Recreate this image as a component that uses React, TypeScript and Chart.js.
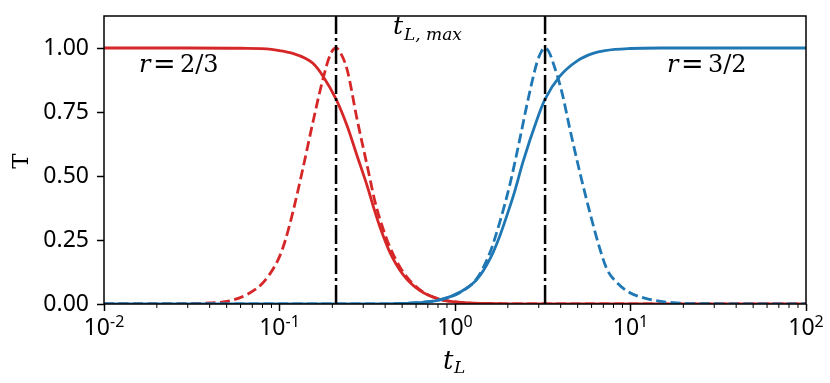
import React, { useEffect, useRef } from "react";
import { Chart, registerables } from "chart.js";

Chart.register(...registerables);

// ---- data ----
const redSolidT = [0.01, 0.03, 0.06, 0.09, 0.1, 0.12, 0.14, 0.155, 0.177, 0.21, 0.243, 0.277, 0.316, 0.35, 0.374, 0.427, 0.506, 0.632, 0.822, 1.07, 1.5, 3, 100];
const redSolidV = [1.0, 1.0, 0.999, 0.995, 0.99, 0.978, 0.96, 0.94, 0.89, 0.8, 0.695, 0.578, 0.461, 0.36, 0.3, 0.2, 0.115, 0.052, 0.018, 0.006, 0.002, 0.0, 0.0];

const redDashT = [0.01, 0.03, 0.04, 0.052, 0.068, 0.0805, 0.094, 0.1007, 0.1075, 0.1193, 0.136, 0.155, 0.177, 0.195, 0.21, 0.225, 0.243, 0.277, 0.316, 0.35, 0.374, 0.427, 0.506, 0.632, 0.822, 1.07, 1.5, 3, 100];
const redDashV = [0, 0.001, 0.004, 0.012, 0.044, 0.083, 0.148, 0.19, 0.245, 0.36, 0.53, 0.71, 0.88, 0.975, 1.0, 0.975, 0.915, 0.72, 0.54, 0.4, 0.33, 0.22, 0.125, 0.055, 0.018, 0.006, 0.002, 0, 0];

const blueSolidT = [0.01, 0.3, 0.6, 0.822, 1.07, 1.334, 1.58, 1.8, 2.06, 2.2, 2.44, 2.93, 3.26, 3.96, 4.95, 6.11, 7.16, 9.93, 15, 100];
const blueSolidV = [0, 0.0, 0.004, 0.016, 0.047, 0.096, 0.175, 0.266, 0.383, 0.445, 0.555, 0.72, 0.8, 0.89, 0.949, 0.979, 0.99, 0.998, 1.0, 1.0];

const blueDashT = [0.01, 0.3, 0.6, 0.822, 1.07, 1.334, 1.58, 1.8, 2.06, 2.35, 2.61, 2.93, 3.1, 3.26, 3.43, 3.62, 4.07, 4.52, 5.15, 5.87, 6.7, 7.35, 8.38, 9.93, 12.9, 17.5, 30, 100];
const blueDashV = [0, 0, 0.005, 0.017, 0.045, 0.1, 0.2, 0.32, 0.47, 0.65, 0.8, 0.943, 0.985, 1.0, 0.985, 0.943, 0.826, 0.682, 0.513, 0.357, 0.214, 0.135, 0.083, 0.044, 0.018, 0.005, 0.001, 0];

const tMaxRed = 0.21;
const tMaxBlue = 3.26;

const xMajorTicks = [0.01, 0.1, 1, 10, 100];
const xMajorExponents = ["-2", "-1", "0", "1", "2"];
const yTicks = [0, 0.25, 0.5, 0.75, 1.0];
const yTickLabels = ["0.00", "0.25", "0.50", "0.75", "1.00"];

const RED = "#d62728";
const BLUE = "#1f77b4";
const SERIF = "'DejaVu Serif', serif";
const SANS = "'Noto Sans', sans-serif";

function pts(t: number[], v: number[]) {
  return t.map((x, i) => ({ x, y: v[i] }));
}

const overlay = {
  id: "overlay",
  afterDraw(chart: any) {
    const ctx = chart.ctx as CanvasRenderingContext2D;
    const a = chart.chartArea;
    const xs = chart.scales.x;
    ctx.save();
    // frame
    ctx.strokeStyle = "#000";
    ctx.lineWidth = 1.5;
    ctx.strokeRect(a.left, a.top, a.right - a.left, a.bottom - a.top);
    // minor x ticks
    ctx.lineWidth = 1;
    for (let d = 0; d < xMajorTicks.length - 1; d++) {
      for (let k = 2; k <= 9; k++) {
        const px = xs.getPixelForValue(xMajorTicks[d] * k);
        ctx.beginPath();
        ctx.moveTo(px, a.bottom);
        ctx.lineTo(px, a.bottom + 4);
        ctx.stroke();
      }
    }
    // x tick labels 10^n
    ctx.fillStyle = "#000";
    ctx.textBaseline = "alphabetic";
    ctx.textAlign = "left";
    xMajorTicks.forEach((v, i) => {
      const px = xs.getPixelForValue(v);
      ctx.font = `23px ${SANS}`;
      const wb = ctx.measureText("10").width;
      ctx.font = `16px ${SANS}`;
      const we = ctx.measureText(xMajorExponents[i]).width;
      const x0 = px - (wb + we) / 2;
      ctx.font = `23px ${SANS}`;
      ctx.fillText("10", x0, a.bottom + 31);
      ctx.font = `16px ${SANS}`;
      ctx.fillText(xMajorExponents[i], x0 + wb, a.bottom + 23);
    });
    // annotations
    const drawR = (x: number, rest: string) => {
      ctx.font = `italic 24px ${SERIF}`;
      ctx.fillText("r", x, 72);
      ctx.font = `27px ${SERIF}`;
      ctx.fillText("=", x + 14, 73);
      ctx.font = `24px ${SERIF}`;
      ctx.fillText(rest, x + 41, 72);
    };
    drawR(139, "2/3");
    drawR(667, "3/2");
    ctx.font = `italic 25px ${SERIF}`;
    ctx.fillText("t", 393, 34);
    ctx.font = `italic 17px ${SERIF}`;
    ctx.fillText("L, max", 404, 40);
    // x title
    ctx.font = `italic 26px ${SERIF}`;
    ctx.fillText("t", 443, 369);
    ctx.font = `italic 17px ${SERIF}`;
    ctx.fillText("L", 454, 373);
    // y title
    ctx.translate(28, 161);
    ctx.rotate(-Math.PI / 2);
    ctx.textAlign = "center";
    ctx.font = `23px ${SERIF}`;
    ctx.fillText("T", 0, 0);
    ctx.restore();
  },
};

export default function App() {
  const ref = useRef<HTMLCanvasElement>(null);
  useEffect(() => {
    if (!ref.current) return;
    const vline = (t: number) => ({
      data: [
        { x: t, y: 0 },
        { x: t, y: 1.125 },
      ],
      borderColor: "#000",
      borderWidth: 2.5,
      borderDash: [19, 4, 3, 4],
      pointRadius: 0,
      tension: 0,
    });
    const W = 2.8;
    const chart = new Chart(ref.current, {
      type: "line",
      data: {
        datasets: [
          vline(tMaxRed),
          vline(tMaxBlue),
          { data: pts(blueDashT, blueDashV), borderColor: BLUE, borderWidth: W, borderDash: [10, 4.5], pointRadius: 0, cubicInterpolationMode: "monotone" },
          { data: pts(blueSolidT, blueSolidV), borderColor: BLUE, borderWidth: W, pointRadius: 0, cubicInterpolationMode: "monotone" },
          { data: pts(redDashT, redDashV), borderColor: RED, borderWidth: W, borderDash: [10, 4.5], pointRadius: 0, cubicInterpolationMode: "monotone" },
          { data: pts(redSolidT, redSolidV), borderColor: RED, borderWidth: W, pointRadius: 0, cubicInterpolationMode: "monotone" },
        ] as any,
      },
      options: {
        animation: false,
        responsive: false,
        events: [],
        layout: { padding: { top: 16, right: 24, left: 0, bottom: 0 } },
        plugins: { legend: { display: false }, tooltip: { enabled: false } },
        scales: {
          x: {
            type: "logarithmic",
            min: 0.01,
            max: 100,
            afterBuildTicks: (s: any) => {
              s.ticks = xMajorTicks.map((v) => ({ value: v, major: true }));
            },
            afterFit: (s: any) => {
              s.height = 79;
              s.paddingLeft = 0;
              s.paddingRight = 0;
              s.paddingTop = 0;
              s.paddingBottom = 0;
            },
            ticks: { autoSkip: false, maxRotation: 0, callback: () => "" },
            grid: { drawOnChartArea: false, drawTicks: true, tickLength: 7, tickWidth: 1.5, tickColor: "#000" },
            border: { display: false },
          },
          y: {
            type: "linear",
            min: 0,
            max: 1.125,
            afterBuildTicks: (s: any) => {
              s.ticks = yTicks.map((v) => ({ value: v }));
            },
            afterFit: (s: any) => {
              s.width = 104;
              s.paddingTop = 0;
              s.paddingBottom = 0;
              s.paddingLeft = 0;
              s.paddingRight = 0;
            },
            ticks: {
              autoSkip: false,
              padding: 8,
              color: "#000",
              font: { family: "Noto Sans", size: 23 },
              callback: (_v: any, i: number) => yTickLabels[i],
            },
            grid: { drawOnChartArea: false, drawTicks: true, tickLength: 7, tickWidth: 1.5, tickColor: "#000" },
            border: { display: false },
          },
        },
      },
      plugins: [overlay],
    });
    return () => chart.destroy();
  }, []);
  return (
    <div style={{ position: "fixed", left: 0, top: 0, width: 830, height: 383, background: "#fff" }}>
      <canvas ref={ref} width={830} height={383} />
    </div>
  );
}
